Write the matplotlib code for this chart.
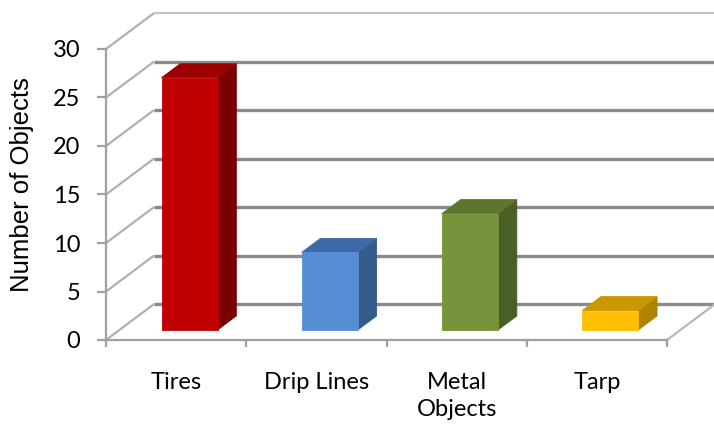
import numpy as np
import matplotlib
matplotlib.use("Agg")
import matplotlib.pyplot as plt
from matplotlib.patches import Polygon

categories = ["Tires", "Drip Lines", "Metal\nObjects", "Tarp"]
counts = [26, 8, 12, 2]
front_colors = ["#c00000", "#558ed5", "#77933c", "#ffc000"]
top_colors = ["#9c0000", "#3d6aa6", "#5d752d", "#c99800"]
side_colors = ["#780000", "#345b8c", "#4b5e24", "#ae8300"]
y_ticks = [0, 5, 10, 15, 20, 25, 30]

# oblique depth of the plot box, in data units (category, value)
DX, DY = 0.342, 3.7
# bars sit in the middle of the depth and the middle of each slot
D0, D1 = 0.28, 0.67
BAR_W = 0.40

fig = plt.figure(figsize=(7.14, 4.28), dpi=100)
ax = fig.add_axes([106 / 714, 88 / 428, 561 / 714, 291 / 428])
ax.set_xlim(0, 4)
ax.set_ylim(0, 30)
ax.patch.set_visible(False)

# back wall gridlines and the left-wall diagonals
for v in y_ticks:
    ax.plot([0, DX], [v, v + DY], color="#b0b0b0", lw=1.6,
            clip_on=False, zorder=1, solid_capstyle="butt")
    col = "#c4c4c4" if v == y_ticks[-1] else "#8a8a8a"
    lw = 1.6 if v == y_ticks[-1] else 2.4
    ax.plot([DX, 4 + DX + 0.05], [v + DY, v + DY], color=col, lw=lw,
            clip_on=False, zorder=1, solid_capstyle="butt")

# floor edges
ax.plot([4, 4 + DX], [0, DY], color="#b8b8b8", lw=1.6, clip_on=False, zorder=1)

# bars: front face, top, right side
for i, (v, fc, tc, sc) in enumerate(zip(counts, front_colors, top_colors, side_colors)):
    x0 = i + 0.5 - BAR_W / 2 + D0 * DX
    x1 = x0 + BAR_W
    y0 = D0 * DY
    y1 = v + D0 * DY
    ddx, ddy = (D1 - D0) * DX, (D1 - D0) * DY
    front = [(x0, y0), (x1, y0), (x1, y1), (x0, y1)]
    top = [(x0, y1), (x1, y1), (x1 + ddx, y1 + ddy), (x0 + ddx, y1 + ddy)]
    side = [(x1, y0), (x1 + ddx, y0 + ddy), (x1 + ddx, y1 + ddy), (x1, y1)]
    for pts, c in [(side, sc), (top, tc), (front, fc)]:
        ax.add_patch(Polygon(pts, closed=True, facecolor=c, edgecolor=c,
                             lw=0.6, clip_on=False, zorder=3))

for s in ["top", "right"]:
    ax.spines[s].set_visible(False)
for s in ["left", "bottom"]:
    ax.spines[s].set_color("#a0a0a0")
    ax.spines[s].set_linewidth(1.6)

ax.set_yticks(y_ticks)
ax.set_yticklabels([str(t) for t in y_ticks], family="Lato", fontsize=17)
ax.tick_params(axis="y", length=6.5, width=1.6, color="#a0a0a0", pad=12)

ax.set_xticks(range(5))
ax.set_xticklabels([])
ax.set_xticks([0.5, 1.5, 2.5, 3.5], minor=True)
ax.set_xticklabels(categories, minor=True, family="Lato", fontsize=17,
                   linespacing=1.35, va="top")
ax.tick_params(axis="x", which="major", length=5, width=1.6, color="#a0a0a0")
ax.tick_params(axis="x", which="minor", length=0, pad=23)

fig.text(22 / 714, 1 - 185 / 428, "Number of Objects", rotation=90,
         ha="center", va="center", family="Liberation Sans", fontsize=18.5)

fig.savefig("out.png", dpi=100)
